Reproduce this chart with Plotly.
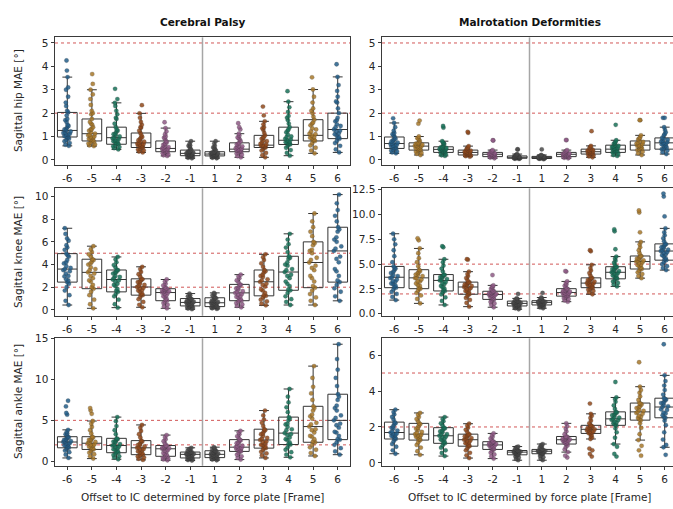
import plotly.graph_objects as go

CATEGORIES = ["-6", "-5", "-4", "-3", "-2", "-1", "1", "2", "3", "4", "5", "6"]
POSITIONS = list(range(12))
COLORS = ["#245f8a", "#a8782a", "#187259", "#924a1c", "#8f5a86", "#4a4a4a",
          "#4a4a4a", "#8f5a86", "#924a1c", "#187259", "#a8782a", "#245f8a"]
GROUP_TITLES = ["Cerebral Palsy", "Malrotation Deformities"]
ROW_TITLES = ["Sagittal hip MAE [°]", "Sagittal knee MAE [°]", "Sagittal ankle MAE [°]"]
X_TITLE = "Offset to IC determined by force plate [Frame]"
THRESHOLDS = [2, 5]

# ---------------- Hip, Cerebral Palsy ----------------
HIP_CP_LOW = [0.6, 0.59, 0.45, 0.32, 0.17, 0.07, 0.07, 0.11, 0.11, 0.18, 0.28, 0.32]
HIP_CP_Q1 = [0.98, 0.81, 0.67, 0.53, 0.35, 0.18, 0.17, 0.35, 0.53, 0.66, 0.81, 0.91]
HIP_CP_MED = [1.26, 1.12, 0.95, 0.73, 0.49, 0.28, 0.25, 0.46, 0.63, 0.84, 1.05, 1.3]
HIP_CP_Q3 = [2.03, 1.75, 1.4, 1.15, 0.81, 0.42, 0.35, 0.73, 1.05, 1.4, 1.72, 2.0]
HIP_CP_HIGH = [3.54, 3.0, 2.44, 1.99, 1.36, 0.8, 0.8, 1.12, 1.65, 2.49, 3.01, 3.55]
HIP_CP_POINTS = [
    [0.6, 0.65, 0.72, 0.8, 0.85, 0.9, 0.95, 0.98, 1.02, 1.08, 1.12, 1.18, 1.22, 1.26, 1.32, 1.4, 1.5, 1.62, 1.75, 1.9, 2.03, 2.1, 2.45, 2.7, 3.0, 3.1, 3.54, 3.82, 4.25, 1.0, 1.1, 1.15, 1.3, 1.45, 1.7, 2.3],
    [0.59, 0.62, 0.66, 0.7, 0.74, 0.78, 0.81, 0.85, 0.9, 0.95, 1.0, 1.05, 1.12, 1.18, 1.25, 1.32, 1.4, 1.5, 1.62, 1.75, 1.95, 2.1, 2.35, 2.6, 2.8, 3.0, 3.25, 3.67, 0.88, 0.98, 1.08, 1.3, 1.55, 2.0],
    [0.45, 0.5, 0.55, 0.58, 0.62, 0.67, 0.7, 0.75, 0.8, 0.85, 0.9, 0.95, 1.0, 1.05, 1.12, 1.2, 1.3, 1.4, 1.55, 1.75, 1.95, 2.1, 2.3, 2.44, 2.6, 3.04, 0.72, 0.82, 0.92, 1.1, 1.25, 1.8],
    [0.32, 0.36, 0.4, 0.44, 0.48, 0.53, 0.56, 0.6, 0.63, 0.66, 0.7, 0.73, 0.78, 0.84, 0.9, 0.98, 1.06, 1.15, 1.25, 1.38, 1.5, 1.62, 1.8, 1.99, 2.34, 0.55, 0.62, 0.68, 0.8, 0.95, 1.4],
    [0.17, 0.2, 0.24, 0.28, 0.32, 0.35, 0.38, 0.41, 0.44, 0.47, 0.49, 0.53, 0.58, 0.64, 0.7, 0.76, 0.81, 0.9, 1.0, 1.1, 1.22, 1.36, 1.61, 0.36, 0.42, 0.46, 0.55, 0.68, 0.95],
    [0.07, 0.09, 0.12, 0.14, 0.16, 0.18, 0.2, 0.22, 0.24, 0.26, 0.28, 0.3, 0.32, 0.35, 0.38, 0.42, 0.48, 0.55, 0.62, 0.7, 0.8, 0.19, 0.23, 0.27, 0.31, 0.36, 0.6],
    [0.07, 0.09, 0.11, 0.13, 0.15, 0.17, 0.19, 0.21, 0.23, 0.25, 0.27, 0.29, 0.31, 0.33, 0.35, 0.4, 0.46, 0.53, 0.6, 0.7, 0.8, 0.16, 0.2, 0.24, 0.28, 0.32, 0.5],
    [0.11, 0.16, 0.22, 0.27, 0.31, 0.35, 0.38, 0.41, 0.43, 0.46, 0.5, 0.55, 0.6, 0.66, 0.73, 0.8, 0.88, 0.96, 1.04, 1.12, 1.3, 1.4, 1.57, 0.37, 0.42, 0.48, 0.58, 0.7, 0.92],
    [0.11, 0.2, 0.3, 0.4, 0.47, 0.53, 0.56, 0.59, 0.61, 0.63, 0.68, 0.75, 0.82, 0.9, 0.98, 1.05, 1.15, 1.28, 1.4, 1.52, 1.65, 1.9, 2.28, 0.55, 0.6, 0.66, 0.8, 0.95, 1.35],
    [0.18, 0.3, 0.42, 0.52, 0.6, 0.66, 0.7, 0.74, 0.78, 0.84, 0.9, 0.98, 1.08, 1.18, 1.3, 1.4, 1.55, 1.7, 1.88, 2.05, 2.25, 2.49, 2.94, 0.68, 0.76, 0.88, 1.0, 1.25, 1.8],
    [0.28, 0.4, 0.52, 0.62, 0.72, 0.81, 0.86, 0.92, 0.98, 1.05, 1.12, 1.22, 1.35, 1.48, 1.6, 1.72, 1.85, 2.0, 2.2, 2.45, 2.7, 3.01, 3.53, 0.84, 0.95, 1.1, 1.3, 1.55, 2.1],
    [0.32, 0.45, 0.6, 0.72, 0.82, 0.91, 0.98, 1.06, 1.14, 1.22, 1.3, 1.4, 1.52, 1.65, 1.8, 2.0, 2.2, 2.45, 2.7, 2.95, 3.2, 3.55, 4.09, 0.95, 1.1, 1.25, 1.45, 1.7, 2.5],
]

# ---------------- Hip, Malrotation ----------------
HIP_MD_LOW = [0.28, 0.21, 0.17, 0.14, 0.07, 0.04, 0.03, 0.07, 0.11, 0.17, 0.21, 0.25]
HIP_MD_Q1 = [0.49, 0.42, 0.32, 0.21, 0.14, 0.07, 0.06, 0.14, 0.25, 0.32, 0.42, 0.46]
HIP_MD_MED = [0.7, 0.59, 0.45, 0.32, 0.24, 0.11, 0.11, 0.24, 0.35, 0.46, 0.63, 0.73]
HIP_MD_Q3 = [0.98, 0.73, 0.56, 0.42, 0.32, 0.17, 0.15, 0.32, 0.46, 0.63, 0.81, 0.94]
HIP_MD_HIGH = [1.58, 1.0, 0.8, 0.59, 0.42, 0.25, 0.21, 0.42, 0.6, 0.84, 1.05, 1.4]
HIP_MD_POINTS = [
    [0.28, 0.32, 0.36, 0.4, 0.44, 0.49, 0.53, 0.57, 0.61, 0.65, 0.7, 0.74, 0.79, 0.84, 0.9, 0.98, 1.05, 1.15, 1.25, 1.4, 1.58, 1.78, 0.5, 0.55, 0.62, 0.68, 0.76, 0.88, 1.1],
    [0.21, 0.26, 0.3, 0.35, 0.39, 0.42, 0.46, 0.5, 0.54, 0.59, 0.62, 0.65, 0.69, 0.73, 0.8, 0.86, 0.93, 1.0, 1.55, 1.68, 0.44, 0.48, 0.56, 0.6, 0.67, 0.71, 0.9],
    [0.17, 0.2, 0.24, 0.28, 0.32, 0.35, 0.39, 0.42, 0.45, 0.48, 0.51, 0.54, 0.56, 0.62, 0.68, 0.74, 0.8, 1.38, 1.45, 0.33, 0.37, 0.41, 0.44, 0.47, 0.52, 0.7],
    [0.14, 0.16, 0.18, 0.21, 0.24, 0.27, 0.3, 0.32, 0.35, 0.38, 0.42, 0.47, 0.53, 0.59, 1.16, 1.2, 0.22, 0.25, 0.29, 0.31, 0.34, 0.4, 0.5],
    [0.07, 0.1, 0.12, 0.14, 0.17, 0.2, 0.22, 0.24, 0.26, 0.29, 0.32, 0.36, 0.42, 0.83, 0.84, 0.15, 0.18, 0.21, 0.23, 0.27, 0.3, 0.38],
    [0.04, 0.05, 0.07, 0.08, 0.1, 0.11, 0.12, 0.14, 0.17, 0.2, 0.25, 0.45, 0.45, 0.07, 0.08, 0.09, 0.1, 0.12, 0.13, 0.15, 0.16, 0.22],
    [0.03, 0.05, 0.06, 0.08, 0.1, 0.11, 0.12, 0.14, 0.15, 0.18, 0.21, 0.45, 0.06, 0.07, 0.09, 0.1, 0.12, 0.13, 0.14, 0.17],
    [0.07, 0.09, 0.11, 0.14, 0.16, 0.19, 0.22, 0.24, 0.26, 0.28, 0.32, 0.36, 0.42, 0.85, 0.85, 0.15, 0.18, 0.2, 0.23, 0.25, 0.27, 0.3, 0.38],
    [0.11, 0.15, 0.19, 0.23, 0.25, 0.28, 0.31, 0.35, 0.38, 0.41, 0.46, 0.52, 0.6, 1.23, 0.26, 0.3, 0.33, 0.36, 0.4, 0.44, 0.55],
    [0.17, 0.21, 0.26, 0.32, 0.36, 0.4, 0.46, 0.5, 0.55, 0.6, 0.63, 0.7, 0.77, 0.84, 1.5, 0.33, 0.38, 0.43, 0.48, 0.52, 0.58, 0.72],
    [0.21, 0.28, 0.35, 0.42, 0.48, 0.54, 0.6, 0.63, 0.68, 0.74, 0.81, 0.88, 0.96, 1.05, 1.7, 1.7, 0.44, 0.5, 0.57, 0.62, 0.7, 0.77, 0.92],
    [0.25, 0.33, 0.4, 0.46, 0.53, 0.6, 0.67, 0.73, 0.79, 0.86, 0.94, 1.05, 1.18, 1.28, 1.4, 1.8, 1.8, 0.48, 0.56, 0.64, 0.7, 0.76, 0.83, 0.9, 1.1],
]

# ---------------- Knee, Cerebral Palsy ----------------
KNEE_CP_LOW = [0.43, 0.14, 0.2, 0.23, 0.14, 0.06, 0.09, 0.23, 0.4, 0.43, 0.43, 0.8]
KNEE_CP_Q1 = [2.45, 1.87, 1.59, 1.3, 0.81, 0.35, 0.29, 0.81, 1.24, 1.73, 1.96, 2.45]
KNEE_CP_MED = [3.6, 3.31, 2.68, 2.02, 1.53, 0.66, 0.63, 1.5, 2.48, 3.34, 4.18, 5.2]
KNEE_CP_Q3 = [4.96, 4.47, 3.52, 2.74, 1.87, 1.0, 1.07, 2.25, 3.52, 4.73, 6.0, 7.29]
KNEE_CP_HIGH = [7.2, 5.62, 4.67, 3.8, 2.68, 1.44, 1.5, 3.11, 4.9, 6.71, 8.5, 10.17]
KNEE_CP_POINTS = [
    [0.43, 0.8, 1.3, 1.7, 2.0, 2.3, 2.45, 2.7, 2.95, 3.2, 3.4, 3.6, 3.85, 4.1, 4.4, 4.7, 4.96, 5.3, 5.7, 6.1, 6.3, 6.7, 7.2, 2.6, 3.0, 3.5, 3.7, 4.2, 4.8, 5.5],
    [0.14, 0.5, 0.9, 1.3, 1.6, 1.87, 2.2, 2.5, 2.8, 3.0, 3.31, 3.5, 3.75, 4.0, 4.25, 4.47, 4.7, 4.9, 5.1, 5.35, 5.62, 2.0, 2.6, 3.2, 3.6, 4.1, 4.4],
    [0.2, 0.5, 0.9, 1.2, 1.4, 1.59, 1.85, 2.1, 2.3, 2.5, 2.68, 2.85, 3.0, 3.2, 3.35, 3.52, 3.75, 3.95, 4.2, 4.45, 4.67, 1.7, 2.2, 2.6, 2.9, 3.3, 3.5],
    [0.23, 0.45, 0.7, 0.95, 1.15, 1.3, 1.45, 1.6, 1.75, 1.9, 2.02, 2.15, 2.3, 2.45, 2.6, 2.74, 2.95, 3.15, 3.35, 3.6, 3.8, 1.35, 1.7, 1.95, 2.2, 2.5, 2.7],
    [0.14, 0.3, 0.45, 0.6, 0.72, 0.81, 1.0, 1.15, 1.3, 1.42, 1.53, 1.6, 1.68, 1.75, 1.81, 1.87, 2.0, 2.15, 2.3, 2.5, 2.68, 0.9, 1.2, 1.5, 1.65, 1.8, 1.9],
    [0.06, 0.12, 0.18, 0.24, 0.3, 0.35, 0.42, 0.48, 0.54, 0.6, 0.66, 0.72, 0.78, 0.85, 0.92, 1.0, 1.1, 1.2, 1.3, 1.44, 0.38, 0.5, 0.62, 0.7, 0.82, 0.95],
    [0.09, 0.14, 0.19, 0.23, 0.26, 0.29, 0.36, 0.44, 0.5, 0.57, 0.63, 0.7, 0.78, 0.88, 0.98, 1.07, 1.18, 1.28, 1.4, 1.5, 0.32, 0.46, 0.6, 0.68, 0.82, 1.02],
    [0.23, 0.35, 0.48, 0.6, 0.72, 0.81, 0.95, 1.1, 1.22, 1.36, 1.5, 1.65, 1.8, 1.95, 2.1, 2.25, 2.45, 2.6, 2.8, 2.95, 3.11, 0.85, 1.15, 1.4, 1.6, 1.9, 2.2],
    [0.4, 0.55, 0.75, 0.9, 1.1, 1.24, 1.5, 1.8, 2.05, 2.3, 2.48, 2.7, 2.9, 3.1, 3.3, 3.52, 3.8, 4.1, 4.4, 4.65, 4.9, 1.3, 1.7, 2.2, 2.6, 3.0, 3.4],
    [0.43, 0.7, 0.95, 1.2, 1.5, 1.73, 2.1, 2.5, 2.8, 3.1, 3.34, 3.6, 3.9, 4.2, 4.5, 4.73, 5.1, 5.5, 5.8, 6.2, 6.71, 1.8, 2.3, 3.0, 3.5, 4.0, 4.6],
    [0.43, 0.8, 1.1, 1.4, 1.7, 1.96, 2.5, 3.0, 3.5, 3.9, 4.18, 4.6, 5.0, 5.3, 5.7, 6.0, 6.5, 6.9, 7.3, 7.8, 8.5, 2.1, 2.8, 3.7, 4.4, 5.2, 5.9],
    [0.8, 1.2, 1.6, 1.9, 2.2, 2.45, 3.0, 3.6, 4.2, 4.7, 5.2, 5.6, 6.0, 6.4, 6.9, 7.29, 7.8, 8.3, 8.8, 9.4, 10.17, 2.6, 3.4, 4.5, 5.4, 6.2, 7.1],
]

# ---------------- Knee, Malrotation ----------------
KNEE_MD_LOW = [1.38, 1.05, 0.89, 0.72, 0.66, 0.46, 0.56, 1.22, 1.97, 2.76, 3.59, 4.4]
KNEE_MD_Q1 = [2.63, 2.53, 2.3, 1.97, 1.45, 0.79, 0.89, 1.78, 2.63, 3.52, 4.51, 5.4]
KNEE_MD_MED = [3.68, 3.62, 3.36, 2.7, 1.94, 1.05, 1.15, 2.14, 3.09, 4.18, 5.26, 6.32]
KNEE_MD_Q3 = [4.77, 4.44, 3.95, 3.19, 2.27, 1.28, 1.32, 2.53, 3.62, 4.74, 5.82, 7.04]
KNEE_MD_HIGH = [8.06, 6.58, 5.49, 4.24, 2.86, 1.55, 1.64, 3.26, 4.93, 5.76, 7.24, 8.6]
KNEE_MD_POINTS = [
    [1.38, 1.7, 2.0, 2.2, 2.45, 2.63, 2.85, 3.05, 3.25, 3.45, 3.68, 3.9, 4.1, 4.35, 4.55, 4.77, 5.2, 5.8, 6.4, 7.0, 7.5, 8.06, 2.7, 3.0, 3.3, 3.6, 3.8, 4.2, 4.6],
    [1.05, 1.5, 1.85, 2.1, 2.35, 2.53, 2.8, 3.05, 3.25, 3.45, 3.62, 3.8, 3.95, 4.1, 4.3, 4.44, 4.8, 5.2, 5.6, 6.1, 6.58, 7.4, 7.6, 2.6, 2.9, 3.3, 3.6, 3.9, 4.2],
    [0.89, 1.3, 1.65, 1.95, 2.15, 2.3, 2.55, 2.8, 3.0, 3.2, 3.36, 3.5, 3.62, 3.75, 3.85, 3.95, 4.25, 4.55, 4.85, 5.2, 5.49, 6.7, 6.8, 2.4, 2.7, 3.1, 3.4, 3.7, 3.9],
    [0.72, 1.1, 1.4, 1.6, 1.8, 1.97, 2.15, 2.3, 2.45, 2.58, 2.7, 2.8, 2.9, 3.0, 3.1, 3.19, 3.4, 3.6, 3.8, 4.0, 4.24, 5.45, 5.5, 2.0, 2.25, 2.5, 2.75, 2.95, 3.15],
    [0.66, 0.9, 1.05, 1.2, 1.32, 1.45, 1.58, 1.7, 1.8, 1.88, 1.94, 2.0, 2.07, 2.14, 2.2, 2.27, 2.4, 2.52, 2.65, 2.75, 2.86, 3.9, 1.5, 1.65, 1.85, 1.98, 2.1, 2.25],
    [0.46, 0.55, 0.62, 0.68, 0.74, 0.79, 0.85, 0.9, 0.95, 1.0, 1.05, 1.1, 1.15, 1.2, 1.24, 1.28, 1.35, 1.42, 1.5, 1.55, 2.0, 0.8, 0.88, 0.98, 1.08, 1.17, 1.26],
    [0.56, 0.64, 0.72, 0.78, 0.84, 0.89, 0.95, 1.0, 1.05, 1.1, 1.15, 1.19, 1.22, 1.26, 1.29, 1.32, 1.4, 1.48, 1.56, 1.64, 2.1, 0.9, 0.98, 1.08, 1.17, 1.24, 1.3],
    [1.22, 1.35, 1.48, 1.58, 1.68, 1.78, 1.86, 1.94, 2.02, 2.08, 2.14, 2.22, 2.3, 2.38, 2.46, 2.53, 2.68, 2.82, 2.96, 3.1, 3.26, 4.25, 4.3, 1.8, 1.9, 2.05, 2.18, 2.34, 2.5],
    [1.97, 2.15, 2.3, 2.42, 2.52, 2.63, 2.73, 2.83, 2.92, 3.0, 3.09, 3.2, 3.3, 3.4, 3.52, 3.62, 3.85, 4.1, 4.35, 4.6, 4.93, 6.3, 6.4, 2.68, 2.88, 3.05, 3.25, 3.45, 3.6],
    [2.76, 2.95, 3.1, 3.25, 3.4, 3.52, 3.65, 3.8, 3.92, 4.05, 4.18, 4.3, 4.42, 4.52, 4.64, 4.74, 4.95, 5.15, 5.35, 5.55, 5.76, 6.5, 8.3, 8.5, 3.6, 3.85, 4.1, 4.25, 4.5, 4.7],
    [3.59, 3.8, 4.0, 4.18, 4.35, 4.51, 4.66, 4.82, 4.97, 5.12, 5.26, 5.38, 5.5, 5.6, 5.72, 5.82, 6.1, 6.4, 6.7, 7.0, 7.24, 8.2, 10.2, 10.4, 4.6, 4.9, 5.2, 5.35, 5.55, 5.8],
    [4.4, 4.6, 4.8, 5.0, 5.2, 5.4, 5.6, 5.8, 6.0, 6.15, 6.32, 6.45, 6.6, 6.75, 6.9, 7.04, 7.3, 7.6, 7.9, 8.2, 8.6, 9.8, 11.8, 12.1, 5.5, 5.9, 6.2, 6.4, 6.7, 7.0],
]

# ---------------- Ankle, Cerebral Palsy ----------------
ANKLE_CP_LOW = [0.4, 0.32, 0.24, 0.16, 0.12, 0.08, 0.12, 0.2, 0.4, 0.48, 0.64, 0.8]
ANKLE_CP_Q1 = [1.64, 1.44, 1.04, 0.8, 0.6, 0.4, 0.44, 1.2, 1.6, 2.04, 2.32, 2.64]
ANKLE_CP_MED = [2.35, 2.2, 1.92, 1.64, 1.52, 0.84, 0.84, 1.72, 2.6, 3.44, 4.24, 5.0]
ANKLE_CP_Q3 = [3.0, 3.0, 2.8, 2.52, 1.92, 1.12, 1.28, 2.64, 3.92, 5.4, 6.72, 8.2]
ANKLE_CP_HIGH = [3.84, 4.92, 5.4, 4.44, 3.2, 1.64, 1.72, 3.72, 6.2, 8.84, 11.64, 14.32]
ANKLE_CP_POINTS = [
    [0.4, 0.8, 1.1, 1.3, 1.5, 1.64, 1.8, 1.95, 2.1, 2.22, 2.35, 2.45, 2.58, 2.7, 2.85, 3.0, 3.2, 3.4, 3.6, 3.84, 5.7, 5.9, 6.7, 7.4, 1.7, 1.9, 2.2, 2.4, 2.6, 2.9, 3.3],
    [0.32, 0.6, 0.85, 1.05, 1.25, 1.44, 1.6, 1.78, 1.92, 2.05, 2.2, 2.35, 2.5, 2.65, 2.82, 3.0, 3.4, 3.8, 4.2, 4.6, 4.92, 5.8, 6.2, 6.5, 1.5, 1.7, 2.0, 2.3, 2.6, 2.9],
    [0.24, 0.45, 0.6, 0.75, 0.9, 1.04, 1.25, 1.45, 1.6, 1.75, 1.92, 2.1, 2.28, 2.45, 2.62, 2.8, 3.3, 3.8, 4.3, 4.9, 5.4, 1.1, 1.4, 1.8, 2.0, 2.4, 2.7],
    [0.16, 0.3, 0.45, 0.58, 0.7, 0.8, 1.0, 1.2, 1.35, 1.5, 1.64, 1.8, 1.98, 2.15, 2.35, 2.52, 2.9, 3.3, 3.7, 4.1, 4.44, 0.85, 1.1, 1.45, 1.7, 2.0, 2.4],
    [0.12, 0.22, 0.32, 0.42, 0.52, 0.6, 0.8, 1.0, 1.2, 1.38, 1.52, 1.6, 1.68, 1.76, 1.85, 1.92, 2.2, 2.45, 2.7, 2.95, 3.2, 0.65, 0.9, 1.3, 1.55, 1.7, 1.9],
    [0.08, 0.15, 0.22, 0.28, 0.34, 0.4, 0.5, 0.6, 0.68, 0.76, 0.84, 0.9, 0.95, 1.0, 1.06, 1.12, 1.22, 1.32, 1.42, 1.52, 1.64, 0.42, 0.55, 0.72, 0.86, 0.98, 1.1],
    [0.12, 0.2, 0.27, 0.33, 0.39, 0.44, 0.52, 0.6, 0.68, 0.76, 0.84, 0.93, 1.02, 1.1, 1.2, 1.28, 1.38, 1.48, 1.58, 1.72, 0.46, 0.58, 0.72, 0.88, 1.05, 1.24],
    [0.2, 0.4, 0.6, 0.8, 1.0, 1.2, 1.3, 1.4, 1.5, 1.62, 1.72, 1.9, 2.1, 2.3, 2.48, 2.64, 2.85, 3.05, 3.3, 3.5, 3.72, 1.25, 1.45, 1.65, 1.85, 2.2, 2.55],
    [0.4, 0.7, 0.95, 1.15, 1.4, 1.6, 1.8, 2.0, 2.2, 2.4, 2.6, 2.85, 3.1, 3.4, 3.65, 3.92, 4.3, 4.7, 5.1, 5.6, 6.2, 1.65, 1.95, 2.35, 2.75, 3.3, 3.8],
    [0.48, 0.8, 1.1, 1.4, 1.7, 2.04, 2.3, 2.6, 2.9, 3.2, 3.44, 3.8, 4.2, 4.6, 5.0, 5.4, 6.0, 6.6, 7.2, 7.9, 8.84, 2.1, 2.7, 3.3, 3.9, 4.5, 5.2],
    [0.64, 1.0, 1.4, 1.7, 2.0, 2.32, 2.7, 3.1, 3.5, 3.9, 4.24, 4.7, 5.2, 5.7, 6.2, 6.72, 7.5, 8.3, 9.1, 10.2, 11.64, 2.4, 3.0, 3.8, 4.5, 5.5, 6.5],
    [0.8, 1.2, 1.6, 2.0, 2.3, 2.64, 3.1, 3.6, 4.1, 4.6, 5.0, 5.6, 6.2, 6.8, 7.5, 8.2, 9.2, 10.2, 11.2, 12.5, 14.32, 2.7, 3.5, 4.4, 5.3, 6.5, 7.9],
]

# ---------------- Ankle, Malrotation ----------------
ANKLE_MD_LOW = [0.51, 0.45, 0.38, 0.27, 0.24, 0.15, 0.15, 0.6, 1.33, 1.05, 1.27, 0.87]
ANKLE_MD_Q1 = [1.33, 1.27, 1.09, 0.93, 0.75, 0.45, 0.51, 1.05, 1.64, 2.09, 2.38, 2.51]
ANKLE_MD_MED = [1.69, 1.6, 1.51, 1.29, 1.0, 0.6, 0.65, 1.29, 1.87, 2.45, 2.84, 3.11]
ANKLE_MD_Q3 = [2.27, 2.2, 1.96, 1.6, 1.18, 0.69, 0.75, 1.47, 2.09, 2.84, 3.33, 3.6]
ANKLE_MD_HIGH = [2.96, 2.78, 2.55, 2.18, 1.64, 0.91, 1.05, 2.2, 2.73, 3.64, 4.24, 4.87]
ANKLE_MD_POINTS = [
    [0.51, 0.7, 0.9, 1.05, 1.2, 1.33, 1.41, 1.49, 1.56, 1.63, 1.69, 1.8, 1.92, 2.04, 2.15, 2.27, 2.42, 2.56, 2.7, 2.83, 2.96, 1.35, 1.5, 1.62, 1.75, 1.95, 2.2],
    [0.45, 0.65, 0.85, 1.0, 1.15, 1.27, 1.34, 1.41, 1.48, 1.54, 1.6, 1.72, 1.84, 1.96, 2.08, 2.2, 2.32, 2.44, 2.56, 2.68, 2.78, 1.3, 1.45, 1.57, 1.68, 1.9, 2.15],
    [0.38, 0.55, 0.7, 0.85, 0.98, 1.09, 1.18, 1.27, 1.36, 1.44, 1.51, 1.6, 1.7, 1.79, 1.88, 1.96, 2.08, 2.2, 2.32, 2.44, 2.55, 1.12, 1.3, 1.47, 1.6, 1.75, 1.92],
    [0.27, 0.42, 0.56, 0.7, 0.82, 0.93, 1.0, 1.08, 1.15, 1.22, 1.29, 1.35, 1.42, 1.48, 1.54, 1.6, 1.72, 1.84, 1.96, 2.07, 2.18, 0.95, 1.1, 1.25, 1.38, 1.5, 1.58],
    [0.24, 0.36, 0.47, 0.57, 0.66, 0.75, 0.8, 0.85, 0.9, 0.95, 1.0, 1.04, 1.08, 1.11, 1.15, 1.18, 1.27, 1.36, 1.45, 1.55, 1.64, 0.78, 0.88, 0.98, 1.06, 1.12, 1.17],
    [0.15, 0.22, 0.29, 0.35, 0.4, 0.45, 0.48, 0.52, 0.55, 0.58, 0.6, 0.62, 0.64, 0.66, 0.68, 0.69, 0.74, 0.78, 0.83, 0.87, 0.91, 0.47, 0.53, 0.59, 0.63, 0.67, 0.68],
    [0.15, 0.24, 0.32, 0.39, 0.45, 0.51, 0.54, 0.57, 0.6, 0.63, 0.65, 0.67, 0.69, 0.71, 0.73, 0.75, 0.81, 0.87, 0.93, 0.99, 1.05, 0.52, 0.58, 0.62, 0.66, 0.7, 0.74],
    [0.3, 0.4, 0.6, 0.75, 0.88, 0.97, 1.05, 1.1, 1.15, 1.2, 1.25, 1.29, 1.33, 1.37, 1.41, 1.44, 1.47, 1.6, 1.75, 1.9, 2.05, 2.2, 1.08, 1.16, 1.24, 1.31, 1.39, 1.46],
    [0.35, 0.5, 0.7, 0.8, 1.33, 1.42, 1.5, 1.57, 1.64, 1.7, 1.75, 1.8, 1.87, 1.92, 1.97, 2.02, 2.09, 2.2, 2.35, 2.5, 2.62, 2.73, 3.3, 1.66, 1.74, 1.83, 1.9, 1.99, 2.07],
    [0.35, 0.5, 0.9, 1.05, 1.4, 1.7, 1.92, 2.09, 2.2, 2.3, 2.38, 2.45, 2.55, 2.65, 2.75, 2.84, 3.0, 3.2, 3.4, 3.55, 3.64, 4.5, 2.12, 2.25, 2.4, 2.52, 2.68, 2.8],
    [0.4, 0.7, 0.95, 1.27, 1.6, 1.95, 2.2, 2.38, 2.5, 2.62, 2.74, 2.84, 2.95, 3.05, 3.15, 3.25, 3.33, 3.5, 3.7, 3.9, 4.05, 4.24, 5.6, 2.42, 2.58, 2.78, 2.9, 3.1, 3.3],
    [0.45, 0.87, 1.0, 1.3, 1.7, 2.1, 2.35, 2.51, 2.65, 2.8, 2.95, 3.11, 3.22, 3.33, 3.44, 3.52, 3.6, 3.8, 4.05, 4.3, 4.55, 4.87, 6.6, 2.55, 2.75, 2.98, 3.15, 3.35, 3.55],
]

PANELS = [
    (HIP_CP_LOW, HIP_CP_Q1, HIP_CP_MED, HIP_CP_Q3, HIP_CP_HIGH, HIP_CP_POINTS),
    (HIP_MD_LOW, HIP_MD_Q1, HIP_MD_MED, HIP_MD_Q3, HIP_MD_HIGH, HIP_MD_POINTS),
    (KNEE_CP_LOW, KNEE_CP_Q1, KNEE_CP_MED, KNEE_CP_Q3, KNEE_CP_HIGH, KNEE_CP_POINTS),
    (KNEE_MD_LOW, KNEE_MD_Q1, KNEE_MD_MED, KNEE_MD_Q3, KNEE_MD_HIGH, KNEE_MD_POINTS),
    (ANKLE_CP_LOW, ANKLE_CP_Q1, ANKLE_CP_MED, ANKLE_CP_Q3, ANKLE_CP_HIGH, ANKLE_CP_POINTS),
    (ANKLE_MD_LOW, ANKLE_MD_Q1, ANKLE_MD_MED, ANKLE_MD_Q3, ANKLE_MD_HIGH, ANKLE_MD_POINTS),
]
Y_RANGES = [[-0.21, 5.24], [-0.21, 5.24], [-0.52, 10.72], [-0.2, 12.63], [-0.56, 15.04], [-0.16, 6.93]]
Y_TICKS = [[0, 1, 2, 3, 4, 5], [0, 1, 2, 3, 4, 5], [0, 2, 4, 6, 8, 10],
           [0, 2.5, 5, 7.5, 10, 12.5], [0, 5, 10, 15], [0, 2, 4, 6]]
Y_TICKTEXT = [None, None, None, ["0.0", "2.5", "5.0", "7.5", "10.0", "12.5"], None, None]

W, H = 673, 509
FONT = "DejaVu Sans"
TXT = "#262626"
AX = "#3a3a3a"

X_DOMAINS = [[55 / W, 350 / W], [382 / W, 1.0]]
X_RANGES = [[-0.5, 11.5], [-0.5, -0.5 + 12 * (W - 382) / 295]]
Y_DOMAINS = [[1 - 162 / H, 1 - 32 / H], [1 - 316 / H, 1 - 186 / H], [1 - 469 / H, 1 - 339 / H]]

fig = go.Figure()
layout = dict(
    width=W, height=H, margin=dict(l=0, r=0, t=0, b=0),
    paper_bgcolor="white", plot_bgcolor="white", showlegend=False,
    font=dict(family=FONT, size=10.5, color=TXT),
    boxmode="overlay", shapes=[], annotations=[],
)

for k, (low, q1, med, q3, high, points) in enumerate(PANELS):
    row, col = divmod(k, 2)
    n = k + 1
    xa = "x" if n == 1 else f"x{n}"
    ya = "y" if n == 1 else f"y{n}"
    xkey = "xaxis" if n == 1 else f"xaxis{n}"
    ykey = "yaxis" if n == 1 else f"yaxis{n}"

    layout[xkey] = dict(
        domain=X_DOMAINS[col], range=X_RANGES[col], anchor=ya,
        tickmode="array", tickvals=POSITIONS, ticktext=CATEGORIES,
        ticks="outside", ticklen=3.5, tickwidth=1, tickcolor=AX,
        showline=True, linecolor=AX, linewidth=1, mirror=True,
        showgrid=False, zeroline=False, tickfont=dict(size=10.5, color=TXT),
        ticklabeloverflow="allow",
    )
    ydict = dict(
        domain=Y_DOMAINS[row], range=Y_RANGES[k], anchor=xa,
        tickmode="array", tickvals=Y_TICKS[k],
        ticks="outside", ticklen=3.5, tickwidth=1, tickcolor=AX,
        showline=True, linecolor=AX, linewidth=1, mirror=(col == 0),
        showgrid=False, zeroline=False, tickfont=dict(size=10.5, color=TXT),
    )
    if Y_TICKTEXT[k] is not None:
        ydict["ticktext"] = Y_TICKTEXT[k]
    layout[ykey] = ydict

    for t in THRESHOLDS:
        layout["shapes"].append(dict(
            type="line", xref=f"{xa} domain", yref=ya, x0=0, x1=1, y0=t, y1=t,
            line=dict(color="rgba(205,70,70,0.9)", width=1, dash="dot"), layer="below"))
    layout["shapes"].append(dict(
        type="line", xref=xa, yref=f"{ya} domain", x0=5.5, x1=5.5, y0=0, y1=1,
        line=dict(color="#a6a6a6", width=1.5), layer="below"))

    fig.add_trace(go.Box(
        x=POSITIONS, q1=q1, median=med, q3=q3, lowerfence=low, upperfence=high,
        orientation="v", width=0.8, whiskerwidth=0.5, boxpoints=False,
        line=dict(color="#333333", width=1), fillcolor="rgba(0,0,0,0)",
        xaxis=xa, yaxis=ya, showlegend=False, hoverinfo="skip"))

    for i, pts in enumerate(points):
        fig.add_trace(go.Box(
            x=[POSITIONS[i]] * len(pts), y=pts, orientation="v",
            boxpoints="all", jitter=0.42, pointpos=0, width=0.8,
            line=dict(color="rgba(0,0,0,0)", width=0), fillcolor="rgba(0,0,0,0)",
            marker=dict(color=COLORS[i], size=4.3, opacity=0.85,
                        line=dict(color="rgba(40,40,40,0.45)", width=0.5)),
            xaxis=xa, yaxis=ya, showlegend=False, hoverinfo="skip"))

col_centers = [(55 + 350) / 2 / W, (382 + 677) / 2 / W]
for c, title in enumerate(GROUP_TITLES):
    layout["annotations"].append(dict(
        text=f"<b>{title}</b>", x=col_centers[c], y=1 - 16 / H, xref="paper", yref="paper",
        showarrow=False, xanchor="center", yanchor="middle", font=dict(size=10.5, color="#111")))
    layout["annotations"].append(dict(
        text=X_TITLE, x=col_centers[c], y=1 - 501 / H, xref="paper", yref="paper",
        showarrow=False, xanchor="center", yanchor="middle", font=dict(size=10.5, color=TXT)))

row_centers = [97, 251, 404]
for r, title in enumerate(ROW_TITLES):
    layout["annotations"].append(dict(
        text=title, x=18 / W, y=1 - row_centers[r] / H, xref="paper", yref="paper",
        showarrow=False, xanchor="center", yanchor="middle", textangle=-90,
        font=dict(size=10.5, color=TXT)))

fig.update_layout(**layout)
fig.write_html(
    "out.html",
    config={"displayModeBar": False, "staticPlot": True},
    post_script="document.body.style.margin='0px';document.body.style.overflow='hidden';",
)
